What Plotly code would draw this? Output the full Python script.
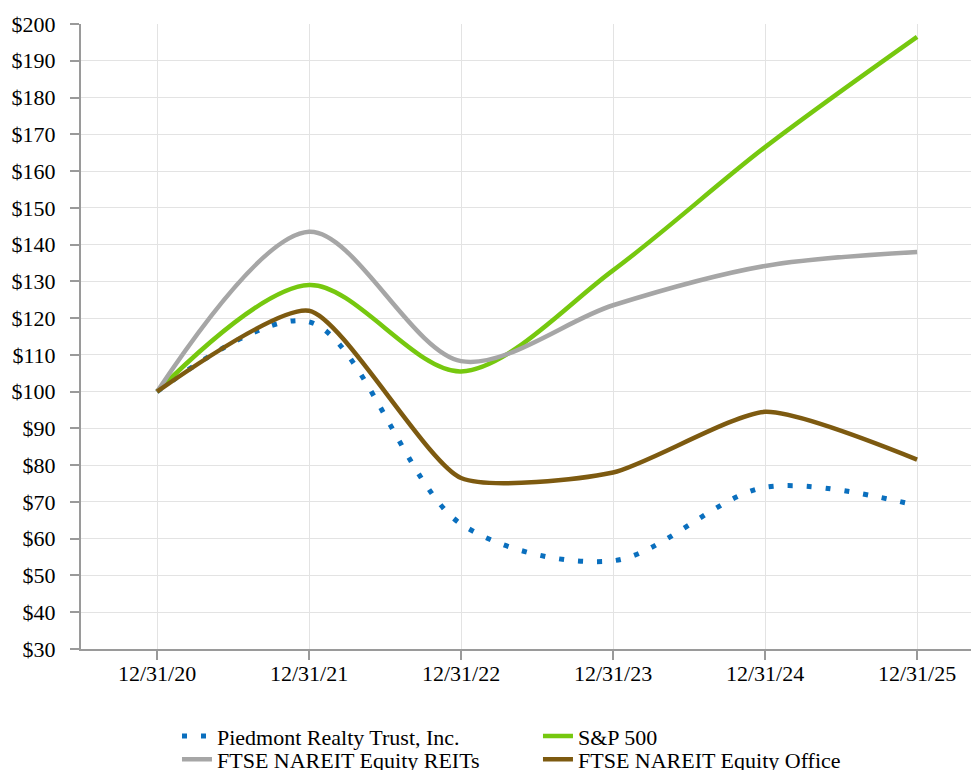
import plotly.graph_objects as go

categories = ["12/31/20", "12/31/21", "12/31/22", "12/31/23", "12/31/24", "12/31/25"]
piedmont = [100, 119, 64, 54, 74, 69]
sp500 = [100, 129, 105.5, 133, 166.5, 196.5]
reits = [100, 143.5, 108.3, 123.5, 134.2, 138]
office = [100, 122, 76.5, 78, 94.5, 81.5]
y_ticks = list(range(30, 201, 10))
y_labels = ["$%d" % v for v in y_ticks]

xpos = list(range(len(categories)))
font_family = "Liberation Serif"

fig = go.Figure()
fig.add_trace(go.Scatter(x=xpos, y=piedmont, mode="lines", name="Piedmont Realty Trust, Inc.",
                         legend="legend",
                         line=dict(color="#0a6fbe", width=5, dash="5px,14px", shape="spline", smoothing=0.9)))
fig.add_trace(go.Scatter(x=xpos, y=sp500, mode="lines", name="S&P 500", legend="legend",
                         line=dict(color="#76c80f", width=4.5, shape="spline", smoothing=0.9)))
fig.add_trace(go.Scatter(x=xpos, y=reits, mode="lines", name="FTSE NAREIT Equity REITs",
                         legend="legend2",
                         line=dict(color="#a6a6a6", width=4.5, shape="spline", smoothing=0.9)))
fig.add_trace(go.Scatter(x=xpos, y=office, mode="lines", name="FTSE NAREIT Equity Office",
                         legend="legend2",
                         line=dict(color="#7d5a10", width=4.5, shape="spline", smoothing=0.6)))

legend_common = dict(orientation="h", xref="container", yref="container",
                     x=0.1726, xanchor="left", yanchor="top",
                     entrywidth=316, traceorder="normal",
                     font=dict(family=font_family, size=22, color="black"),
                     itemwidth=30, bgcolor="rgba(0,0,0,0)")

fig.update_layout(
    width=979, height=770,
    margin=dict(l=73, r=0, t=16, b=129, autoexpand=False),
    plot_bgcolor="white", paper_bgcolor="white",
    font=dict(family=font_family, size=22, color="black"),
    showlegend=True,
    legend=dict(legend_common, y=0.0815),
    legend2=dict(legend_common, y=0.0515),
)
fig.update_xaxes(
    range=[-0.5, 5.46], tickmode="array", tickvals=xpos, ticktext=categories,
    showgrid=True, gridcolor="#e3e3e3", gridwidth=1,
    showline=True, linecolor="#9a9a9a", linewidth=2,
    ticks="outside", ticklen=9, tickcolor="#9a9a9a", tickwidth=2,
    ticklabelstandoff=-5, zeroline=False, automargin=False,
)
fig.update_yaxes(
    range=[30, 200], tickmode="array", tickvals=y_ticks, ticktext=y_labels,
    showgrid=True, gridcolor="#e3e3e3", gridwidth=1,
    showline=True, linecolor="#9a9a9a", linewidth=2,
    ticks="outside", ticklen=9, tickcolor="#9a9a9a", tickwidth=2,
    ticklabelstandoff=10, zeroline=False, automargin=False,
)
fig.write_html("out.html")
